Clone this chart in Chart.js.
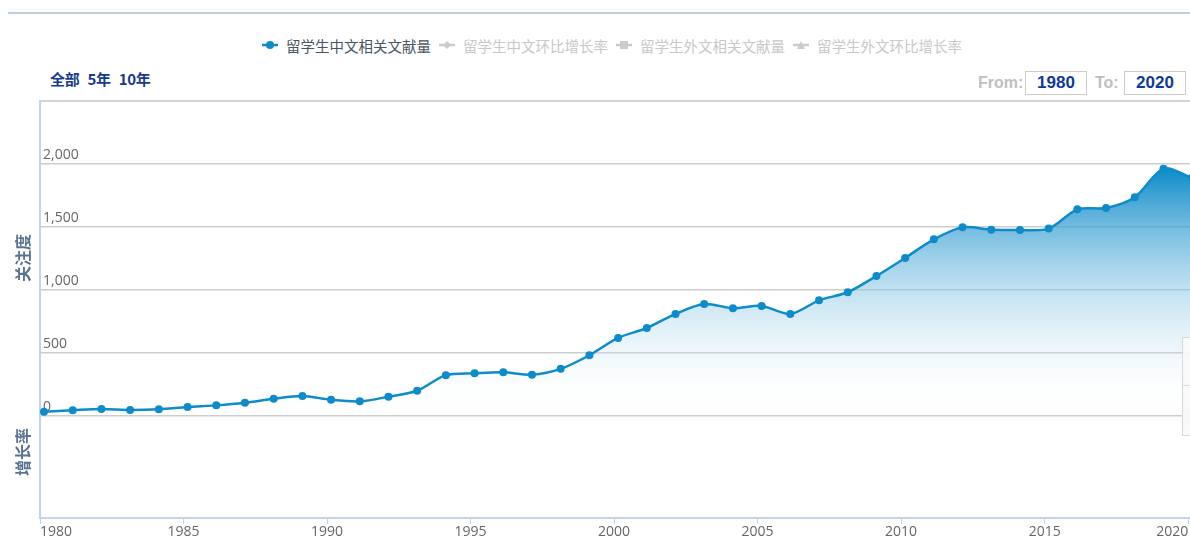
<!DOCTYPE html>
<html>
<head>
<meta charset="utf-8">
<script src="https://cdn.jsdelivr.net/npm/chart.js@4"></script>
<style>
  html, body { margin: 0; padding: 0; width: 1190px; height: 538px; overflow: hidden; background: #fff; }
  body { position: relative; font-family: "Noto Sans CJK SC", "Noto Sans", sans-serif; }
  .topline { position: absolute; left: 8px; right: 0; top: 12px; height: 2px; background: #bccde0; }
  .legend { position: absolute; top: 34px; left: 262px; height: 22px; display: flex; align-items: center; font-size: 14.5px; white-space: nowrap; }
  .legend .item { display: flex; align-items: center; margin-right: 8px; color: #c8c8c8; }
  .legend .item.on { color: #4b5563; }
  .legend svg { margin-right: 8px; }
  .range { position: absolute; left: 50px; top: 68px; font-size: 15px; font-weight: bold; color: #1a3a8c; letter-spacing: -0.3px; }
  .range span { margin-right: 8px; }
  .from { position: absolute; top: 71px; height: 24px; line-height: 24px; font-family: "Liberation Sans Narrow", "Liberation Sans", sans-serif; font-weight: bold; font-size: 16px; color: #c0c0c0; }
  .box { position: absolute; top: 71px; width: 60px; height: 22px; border: 1px solid #cccccc; text-align: center; line-height: 22px; font-family: "Liberation Sans Narrow", "Liberation Sans", sans-serif; font-weight: bold; font-size: 17px; color: #0d3a9a; }
  .ytitle { position: absolute; left: 22px; font-size: 16px; font-weight: bold; color: #5a7394; transform: translate(-50%, -50%) rotate(-90deg); white-space: nowrap; }
  #wrap { position: absolute; left: 0; top: 95px; width: 1240px; height: 443px; }
  .tip { position: absolute; left: 1182px; top: 337px; width: 20px; height: 97px; border: 1px solid #d8d8d8; background: rgba(249,249,249,0.95); }
  .tip div { position: absolute; left: 0; right: 0; top: 47px; border-top: 1px solid #dcdcdc; }
</style>
</head>
<body>
<div class="topline"></div>

<div class="legend" id="legend"></div>

<div class="range"><span>全部</span><span>5年</span><span>10年</span></div>
<div class="from" style="left:978px;">From:</div>
<div class="box" style="left:1025px;">1980</div>
<div class="from" style="left:1095px;">To:</div>
<div class="box" style="left:1124px;">2020</div>

<div id="wrap"><canvas id="trendChart"></canvas></div>

<div class="ytitle" style="top:258px;">关注度</div>
<div class="ytitle" style="top:452px;">增长率</div>

<div class="tip"><div></div></div>

<script>
// Years and counts of 留学生中文相关文献量
const years = [
    1980, 1981, 1982, 1983, 1984, 1985, 1986, 1987, 1988, 1989,
    1990, 1991, 1992, 1993, 1994, 1995, 1996, 1997, 1998, 1999,
    2000, 2001, 2002, 2003, 2004, 2005, 2006, 2007, 2008, 2009,
    2010, 2011, 2012, 2013, 2014, 2015, 2016, 2017, 2018, 2019, 2020
];
const chineseCounts = [
    34, 46, 56, 48, 54, 72, 84, 104, 136, 158,
    128, 116, 153, 200, 324, 338, 346, 328, 374, 482,
    619, 698, 810, 889, 855, 873, 810, 918, 982, 1111,
    1254, 1402, 1497, 1479, 1476, 1487, 1640, 1651, 1736, 1963, 1890
];
const seriesNames = ['留学生中文相关文献量', '留学生中文环比增长率', '留学生外文相关文献量', '留学生外文环比增长率'];
const yTicks = [0, 500, 1000, 1500, 2000];
const xTickStep = 5;

const lineColor = '#0e8bc9';

// legend markers: circle, diamond, square, triangle
function buildLegend() {
    const markers = [
        '<circle cx="8" cy="6" r="4" fill="COL"/>',
        '<path d="M8 2 L12 6 L8 10 L4 6 Z" fill="COL"/>',
        '<rect x="4" y="2" width="8" height="8" fill="COL"/>',
        '<path d="M8 2 L12 10 L4 10 Z" fill="COL"/>'
    ];
    const legend = document.getElementById('legend');
    seriesNames.forEach((name, i) => {
        const col = i === 0 ? lineColor : '#cccccc';
        const item = document.createElement('div');
        item.className = 'item' + (i === 0 ? ' on' : '');
        item.innerHTML = '<svg width="16" height="12"><line x1="0" y1="6" x2="16" y2="6" stroke="' + col +
            '" stroke-width="2.5"/>' + markers[i].replace('COL', col) + '</svg>' + name;
        legend.appendChild(item);
    });
}
buildLegend();

// draws the light frame line along the top of the plot
const topBorder = {
    id: 'topBorder',
    beforeDatasetsDraw(chart) {
        const { ctx, chartArea } = chart;
        ctx.save();
        ctx.strokeStyle = '#d4d4d4';
        ctx.lineWidth = 2;
        ctx.beginPath();
        ctx.moveTo(chartArea.left, chartArea.top);
        ctx.lineTo(chartArea.right, chartArea.top);
        ctx.stroke();
        ctx.restore();
    }
};

const ctx = document.getElementById('trendChart').getContext('2d');
new Chart(ctx, {
    type: 'line',
    data: {
        datasets: [{
            label: seriesNames[0],
            data: years.map((yr, i) => ({ x: yr + 0.14, y: chineseCounts[i] })),
            borderColor: lineColor,
            borderWidth: 2.5,
            tension: 0.3,
            fill: 'origin',
            backgroundColor: (c) => {
                const chart = c.chart;
                if (!chart.chartArea) return 'rgba(14,139,201,0.3)';
                const top = chart.scales.y.getPixelForValue(Math.max(...chineseCounts));
                const bottom = chart.scales.y.getPixelForValue(0);
                const g = chart.ctx.createLinearGradient(0, top, 0, bottom);
                g.addColorStop(0, 'rgba(14,139,201,1)');
                g.addColorStop(1, 'rgba(255,255,255,0)');
                return g;
            },
            pointRadius: 4,
            pointBorderWidth: 0,
            pointBackgroundColor: lineColor
        }]
    },
    options: {
        responsive: true,
        maintainAspectRatio: false,
        animation: false,
        events: [],
        layout: { padding: { top: 6, left: 0, right: 0, bottom: 0 } },
        plugins: {
            legend: { display: false },
            tooltip: { enabled: false }
        },
        scales: {
            x: {
                type: 'linear',
                min: 1980,
                max: 1980 + 1200 / 28.8,
                afterFit: (s) => { s.height = 20; },
                border: { color: '#c4d4e8', width: 2 },
                grid: { drawOnChartArea: false, tickLength: 6, color: '#c4d4e8', lineWidth: 1 },
                ticks: {
                    stepSize: xTickStep,
                    includeBounds: false,
                    align: 'inner',
                    autoSkip: false,
                    maxRotation: 0,
                    padding: 0,
                    color: '#666666',
                    font: { family: 'Open Sans', size: 14 },
                    callback: (v) => String(v)
                }
            },
            y: {
                min: -810,
                max: 2500,
                afterFit: (s) => {
                    s.width = 40;
                    s.paddingTop = 0;
                    s.paddingBottom = 0;
                },
                afterBuildTicks: (s) => { s.ticks = yTicks.map(v => ({ value: v })); },
                border: { color: '#c4d4e8', width: 2 },
                grid: { drawTicks: false, color: '#cdcdcd', lineWidth: 1.5 },
                ticks: {
                    mirror: true,
                    padding: 3,
                    labelOffset: -9,
                    color: '#666666',
                    font: { family: 'Open Sans', size: 14 },
                    callback: (v) => v.toLocaleString('en-US')
                }
            }
        }
    },
    plugins: [topBorder]
});
</script>
</body>
</html>
